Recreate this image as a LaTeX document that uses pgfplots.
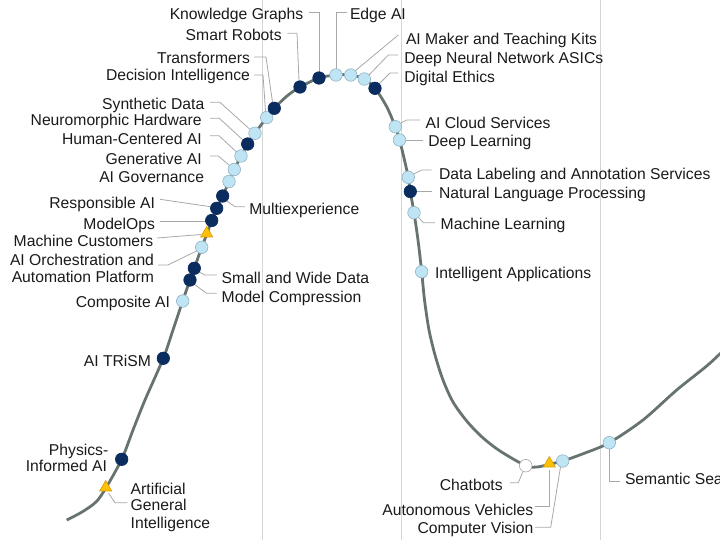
\documentclass[border=0pt]{standalone}
\usepackage{fontspec}
\setmainfont{Liberation Sans}
\usepackage{pgfplots}
\pgfplotsset{compat=1.18}
\definecolor{navy}{HTML}{0B2C5E}
\definecolor{lblue}{HTML}{BFE4F3}
\definecolor{lbord}{HTML}{8FB3C4}
\definecolor{ylw}{HTML}{FFC107}
\definecolor{ybord}{HTML}{D99A00}
\definecolor{curve}{HTML}{67736F}
\definecolor{gridc}{HTML}{D5D5D5}
\definecolor{leadc}{HTML}{A8A8A8}
\definecolor{txt}{HTML}{1A1A1A}
\tikzset{
  lbl/.style={font=\fontsize{15.7bp}{18bp}\selectfont, inner sep=0pt, outer sep=0pt, text=txt},
  R/.style={lbl, anchor=base east},
  L/.style={lbl, anchor=base west},
}
\begin{document}
\begin{tikzpicture}
\begin{axis}[
  scale only axis, width=720bp, height=540bp,
  xmin=0, xmax=720, ymin=0, ymax=540, y dir=reverse,
  hide axis, clip=true,
  leader/.style={leadc, line width=0.8pt, no marks},
]
\coordinate (SW) at (axis cs:0,540);
\coordinate (NE) at (axis cs:720,0);
% grid lines
\addplot[gridc, line width=1pt, no marks] coordinates {(262.5,0) (262.5,540)};
\addplot[gridc, line width=1pt, no marks] coordinates {(401.5,0) (401.5,540)};
\addplot[gridc, line width=1pt, no marks] coordinates {(600.5,0) (600.5,540)};
% leader lines
\addplot[leader] coordinates {(309,12.3) (319,12.3) (319,72)};
\addplot[leader] coordinates {(287.3,33.3) (297,33.3) (299,81)};
\addplot[leader] coordinates {(254,57) (266,57) (272.5,102)};
\addplot[leader] coordinates {(254,75) (263,75) (265.5,111)};
\addplot[leader] coordinates {(346.7,12.3) (336,12.3) (336,69)};
\addplot[leader] coordinates {(398.3,35) (355,71)};
\addplot[leader] coordinates {(398,55) (388.3,55) (369,75)};
\addplot[leader] coordinates {(398,73) (390,73) (379.5,83.5)};
\addplot[leader] coordinates {(210,102.3) (220,102.3) (249.5,129)};
\addplot[leader] coordinates {(210,118.3) (219.3,118.3) (243,140)};
\addplot[leader] coordinates {(210,135.7) (219,135.7) (236.5,152)};
\addplot[leader] coordinates {(210,156) (218.3,156) (229,165)};
\addplot[leader] coordinates {(160,199.3) (210.5,206.7)};
\addplot[leader] coordinates {(160,221.7) (205.5,221.7)};
\addplot[leader] coordinates {(157,238) (201,234.5)};
\addplot[leader] coordinates {(158,265) (168,265) (196.5,251)};
\addplot[leader] coordinates {(226.7,201) (235,206.7) (245,206.7)};
\addplot[leader] coordinates {(199,272) (205,275) (216.7,275)};
\addplot[leader] coordinates {(194.5,284.5) (206.7,293.3) (216.7,293.3)};
\addplot[leader] coordinates {(108.5,493) (115,502.7) (127.3,502.7)};
\addplot[leader] coordinates {(401.3,122.7) (406.7,120) (420,120)};
\addplot[leader] coordinates {(405.5,140) (423,140)};
\addplot[leader] coordinates {(413.8,174) (421.7,170) (431.7,170)};
\addplot[leader] coordinates {(416.5,191.5) (431.7,191.5)};
\addplot[leader] coordinates {(418.5,217.3) (423.3,222.7) (435,222.7)};
\addplot[leader] coordinates {(510,482.7) (518.3,482.7) (523,471.5)};
\addplot[leader] coordinates {(535,506) (549.3,506) (549.3,470)};
\addplot[leader] coordinates {(535,527.3) (550.7,527.3) (560.5,467)};
\addplot[leader] coordinates {(609.3,449) (609.3,481) (620,481)};
% hype curve
\addplot[curve, line width=2.8pt, smooth, no marks] coordinates {
(66.7,520) (82,512) (96,502) (105.7,488.3) (121.7,459.3) (133,430) (145,400)
(163.3,358.3) (173,330) (182.7,301) (190,280) (194.3,268.3) (201.7,247.3)
(206.7,234.5) (211.7,220.5) (216.7,208.3) (222.7,196) (229,181.5) (234.3,169.5)
(241,156) (247.7,144) (255,133.3) (266.7,117.5) (274.3,108.3) (287,96) (300,87)
(319,78) (336,75) (350.7,75) (364.3,79) (375,88.3) (386.7,106.7) (395.3,126.7)
(399.5,140) (404,158) (408.3,177.3) (410.3,191.5) (414,212.7) (418,240)
(421.7,271.7) (424.5,300) (429,330) (435,355) (443,380) (453,402) (466.7,421)
(482,437) (500,451) (525.7,465.7) (537,467) (549.3,464.3) (562.7,461) (585,453)
(609.3,442.7) (643,420) (676.7,390) (706.7,366) (725,349)};
% markers: light blue
\addplot[only marks, mark=*, mark size=6.3pt, mark options={fill=lblue, draw=lbord, line width=0.6pt}] coordinates {
(336,75) (350.7,75) (364.3,79) (266.7,117.5) (255,133.3) (241,156) (234.3,169.5)
(229,181.5) (201.7,247.3) (182.7,301) (395.3,126.7) (399.5,140) (408.3,177.3)
(414,212.7) (421.7,271.7) (562.7,461) (609.3,442.7)};
% markers: navy
\addplot[only marks, mark=*, mark size=6.3pt, mark options={fill=navy, draw=navy, line width=0.6pt}] coordinates {
(319,78) (300,87) (274.3,108.3) (247.7,144) (222.7,196) (216.7,208.3) (211.7,220.5)
(194.3,268.3) (190,280) (163.3,358.3) (121.7,459.3) (375,88.3) (410.3,191.5)};
% markers: white
\addplot[only marks, mark=*, mark size=6.3pt, mark options={fill=white, draw=gray!70, line width=0.6pt}] coordinates {(525.7,465.7)};
% markers: triangles
\addplot[only marks, mark=triangle*, mark size=7pt, mark options={fill=ylw, draw=ybord, line width=0.6pt}] coordinates {
(105.7,487.5) (206.7,233.5) (549.3,463.5)};
% labels
\node[R] at (axis cs:303.3,20) {Knowledge Graphs};
\node[R] at (axis cs:281.7,40.7) {Smart Robots};
\node[R] at (axis cs:250,64) {Transformers};
\node[R] at (axis cs:250,81) {Decision Intelligence};
\node[R] at (axis cs:204.3,110) {Synthetic Data};
\node[R] at (axis cs:201.7,126) {Neuromorphic Hardware};
\node[R] at (axis cs:201.7,144.3) {Human-Centered AI};
\node[R] at (axis cs:201.7,164.3) {Generative AI};
\node[R] at (axis cs:204,182.3) {AI Governance};
\node[R] at (axis cs:155,208.3) {Responsible AI};
\node[R] at (axis cs:155,229.3) {ModelOps};
\node[R] at (axis cs:153.3,246.7) {Machine Customers};
\node[R] at (axis cs:154,265.7) {AI Orchestration and};
\node[R] at (axis cs:154,282.7) {Automation Platform};
\node[R] at (axis cs:170,307.3) {Composite AI};
\node[R] at (axis cs:151,366) {AI TRiSM};
\node[R] at (axis cs:108.3,455) {Physics-};
\node[R] at (axis cs:107,471.7) {Informed AI};
\node[L] at (axis cs:130.7,494) {Artificial};
\node[L] at (axis cs:130.7,510.7) {General};
\node[L] at (axis cs:130.7,528.3) {Intelligence};
\node[L] at (axis cs:249.3,215) {Multiexperience};
\node[L] at (axis cs:221.7,284) {Small and Wide Data};
\node[L] at (axis cs:221.7,302.3) {Model Compression};
\node[L] at (axis cs:350,20) {Edge AI};
\node[L] at (axis cs:406,45) {AI Maker and Teaching Kits};
\node[L] at (axis cs:404.3,64) {Deep Neural Network ASICs};
\node[L] at (axis cs:404.3,82.7) {Digital Ethics};
\node[L] at (axis cs:425.7,128.3) {AI Cloud Services};
\node[L] at (axis cs:428.3,146.7) {Deep Learning};
\node[L] at (axis cs:439,180) {Data Labeling and Annotation Services};
\node[L] at (axis cs:439,198.3) {Natural Language Processing};
\node[L] at (axis cs:440.7,230) {Machine Learning};
\node[L] at (axis cs:435,278.3) {Intelligent Applications};
\node[R] at (axis cs:502.7,490.7) {Chatbots};
\node[R] at (axis cs:533.3,515) {Autonomous Vehicles};
\node[R] at (axis cs:533.3,533.3) {Computer Vision};
\node[L] at (axis cs:625,484) {Semantic Search};
\end{axis}
\pgfresetboundingbox
\useasboundingbox (SW) rectangle (NE);
\end{tikzpicture}
\end{document}
